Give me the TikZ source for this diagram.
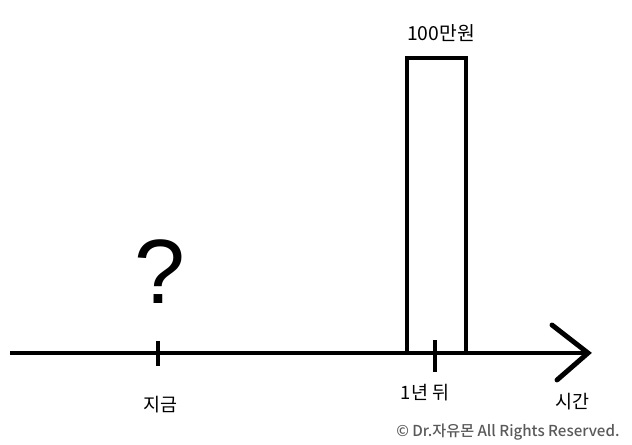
\documentclass[tikz,border=0pt]{standalone}
\usepackage{fontspec}
\setmainfont{Noto Sans CJK KR}
\newfontfamily\qfont{Liberation Sans}
\newfontfamily\markfont{Noto Sans CJK KR Medium}
\begin{document}
\begin{tikzpicture}[x=0.02cm,y=-0.02cm,line width=2.8pt]
      \useasboundingbox (0,0) rectangle (632,445);
      \coordinate (start) at (10,353);
      \coordinate (tip) at (588,353);
      \draw (start)--(tip); % time axis
      \draw[line cap=round,line join=miter](552,325)--(tip)--(557,380);
      \draw(158,341)--(158,366);
      \draw(435,340)--(435,372);
      \draw(407,353)--(407,58)--(466,58)--(466,353); % 1 year payment
      \node[font=\fontsize{11}{13}\selectfont] (money) at (441,33) {100만원};
      \node[font=\qfont\fontsize{52}{56}\selectfont] (ques) at (160,272) {?};
      \node[font=\fontsize{10.5}{12}\selectfont] (now) at (160,405) {지금};
      \node[font=\fontsize{10.5}{12}\selectfont] (later) at (425,393) {1년 뒤};
      \node[font=\fontsize{10.5}{12}\selectfont] (time) at (572,402) {시간};
      \node[font=\markfont\fontsize{8.6}{10}\selectfont,text=black!65,anchor=east,inner sep=0pt] (copy) at (622,432) {© Dr.자유몬 All Rights Reserved.};
    \end{tikzpicture}
\end{document}
